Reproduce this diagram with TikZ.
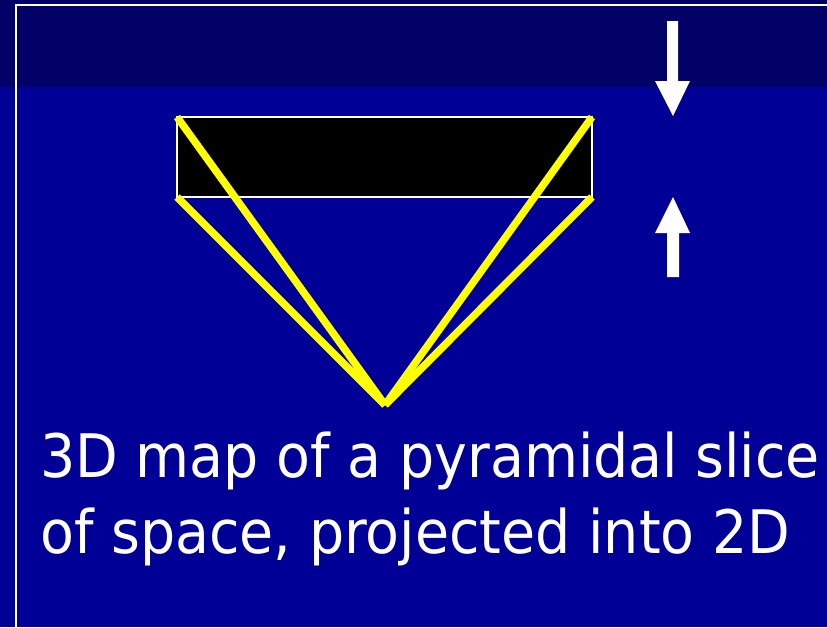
\documentclass[tikz,border=0pt]{standalone}
\usepackage{fontspec}
\setmainfont{DejaVu Sans}
\usepackage{tikz}
\usetikzlibrary{positioning}

\definecolor{slidenavy}{RGB}{0,0,102}
\definecolor{slideblue}{RGB}{0,0,150}
\definecolor{rayyellow}{RGB}{255,255,0}

\begin{document}
\begin{tikzpicture}[x=1pt,y=-1pt,
    ray/.style={draw=rayyellow,line width=7.5pt},
    blockarrow/.style={fill=white},
    caption/.style={anchor=base west,inner sep=0pt,text=white,font=\fontsize{60}{76}\selectfont}]

% Background
\useasboundingbox (0,0) rectangle (827,627);
\fill[slideblue] (0,0) rectangle (827,627);
\fill[slidenavy] (0,0) rectangle (827,87);
\draw[white,line width=2pt] (16,627) -- (16,5) -- (827,5);

% Slab
\coordinate (tl) at (177,117);
\coordinate (tr) at (592,117);
\coordinate (bl) at (177,197);
\coordinate (br) at (592,197);
\coordinate (apex) at (385,405);
\draw[white,fill=black,line width=1.5pt] (tl) rectangle (br);

% Rays
\draw[ray] (tl) -- (apex);
\draw[ray] (tr) -- (apex);
\draw[ray] (bl) -- (apex);
\draw[ray] (br) -- (apex);

% Thickness arrows
\fill[blockarrow] (667,21) -- (678,21) -- (678,81) -- (690,81) -- (673,116)
    -- (655,81) -- (667,81) -- cycle;
\fill[blockarrow] (667,277) -- (679,277) -- (679,233) -- (690,233) -- (673,197)
    -- (655,233) -- (667,233) -- cycle;

% Caption
\node[caption] (line1) at (40,477) {\scalebox{0.924}[1]{3D map of a pyramidal slice}};
\node[caption] (line2) at (40,553) {\scalebox{0.924}[1]{of space, projected into 2D}};

\end{tikzpicture}
\end{document}
